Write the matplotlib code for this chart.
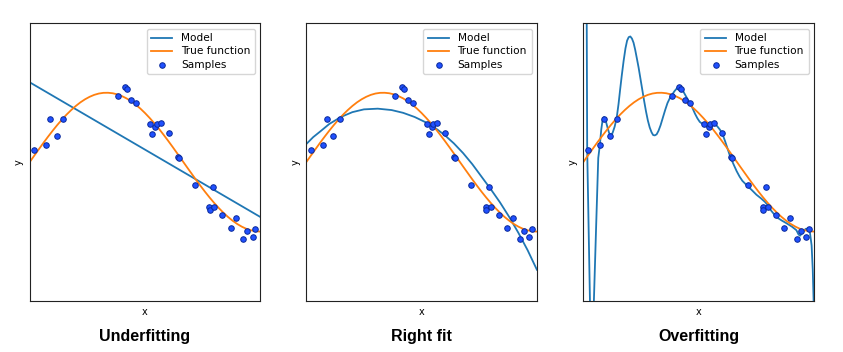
import matplotlib
matplotlib.use("Agg")
import matplotlib.pyplot as plt

# samples (same in all three panels)
sample_x = [0.020, 0.072, 0.088, 0.118, 0.146, 0.383, 0.413, 0.423, 0.439, 0.461,
            0.523, 0.530, 0.543, 0.551, 0.568, 0.603, 0.642, 0.647, 0.716, 0.794,
            0.778, 0.781, 0.799, 0.834, 0.872, 0.895, 0.925, 0.944, 0.967, 0.978]
sample_y = [0.175, 0.251, 0.622, 0.372, 0.622, 0.949, 1.087, 1.054, 0.895, 0.856,
            0.545, 0.405, 0.506, 0.550, 0.564, 0.416, 0.079, 0.060, -0.333, -0.362,
            -0.642, -0.689, -0.650, -0.761, -0.944, -0.800, -1.103, -0.996, -1.078, -0.963]

# true function
true_x = [0.00, 0.02, 0.04, 0.06, 0.08, 0.10, 0.12, 0.14, 0.16, 0.18, 0.20, 0.22, 0.24,
          0.26, 0.28, 0.30, 0.32, 0.34, 0.36, 0.38, 0.40, 0.42, 0.44, 0.46, 0.48, 0.50,
          0.52, 0.54, 0.56, 0.58, 0.60, 0.62, 0.64, 0.66, 0.68, 0.70, 0.72, 0.74, 0.76,
          0.78, 0.80, 0.82, 0.84, 0.86, 0.88, 0.90, 0.92, 0.94, 0.96, 0.98, 1.00]
true_y = [0.000, 0.094, 0.187, 0.279, 0.368, 0.454, 0.536, 0.613, 0.685, 0.750, 0.809,
          0.861, 0.905, 0.941, 0.969, 0.988, 0.998, 0.999, 0.992, 0.976, 0.951, 0.918,
          0.876, 0.827, 0.771, 0.707, 0.637, 0.562, 0.482, 0.397, 0.309, 0.218, 0.125,
          0.031, -0.063, -0.156, -0.249, -0.339, -0.426, -0.509, -0.588, -0.661, -0.729,
          -0.790, -0.844, -0.891, -0.930, -0.961, -0.982, -0.996, -1.000]

# model curves
under_x = [0.0, 1.0]
under_y = [1.15, -0.79]

right_x = [0.00, 0.03, 0.06, 0.10, 0.15, 0.20, 0.25, 0.31, 0.37, 0.42, 0.47, 0.52,
           0.56, 0.60, 0.64, 0.68, 0.72, 0.76, 0.80, 0.84, 0.88, 0.92, 0.96, 1.00]
right_y = [0.26, 0.36, 0.44, 0.55, 0.65, 0.72, 0.76, 0.77, 0.75, 0.71, 0.65, 0.57,
           0.49, 0.39, 0.27, 0.13, -0.03, -0.21, -0.39, -0.58, -0.79, -1.02, -1.27, -1.55]

over_x = [0.000, 0.015, 0.017, 0.029, 0.037, 0.046, 0.056, 0.065, 0.072, 0.078,
          0.084, 0.090, 0.097, 0.105, 0.112, 0.119, 0.127, 0.136, 0.145, 0.153,
          0.160, 0.167, 0.175, 0.183, 0.190, 0.197, 0.204, 0.211, 0.218, 0.225,
          0.232, 0.240, 0.248, 0.256, 0.264, 0.272, 0.280, 0.288, 0.296, 0.303,
          0.310, 0.318, 0.326, 0.335, 0.345, 0.355, 0.365, 0.375, 0.385, 0.395,
          0.405, 0.414, 0.420, 0.426, 0.435, 0.445, 0.455, 0.462, 0.472, 0.484,
          0.495, 0.505, 0.519, 0.530, 0.544, 0.555, 0.566, 0.580, 0.592, 0.602,
          0.615, 0.625, 0.635, 0.650, 0.665, 0.678, 0.690, 0.702, 0.714, 0.730,
          0.751, 0.770, 0.787, 0.800, 0.815, 0.837, 0.860, 0.881, 0.905, 0.924,
          0.933, 0.940, 0.947, 0.955, 0.965, 0.976, 0.983, 0.990, 0.995, 0.9987, 1.000]
over_y = [4.00, 2.00, 0.18, -2.00, -3.00, -2.00, -0.90, 0.06, 0.25, 0.47,
          0.61, 0.65, 0.60, 0.50, 0.42, 0.39, 0.42, 0.51, 0.64, 0.84,
          1.05, 1.25, 1.46, 1.64, 1.75, 1.80, 1.81, 1.78, 1.72, 1.62,
          1.50, 1.36, 1.20, 1.04, 0.88, 0.73, 0.60, 0.50, 0.43, 0.39,
          0.385, 0.40, 0.45, 0.53, 0.64, 0.75, 0.85, 0.92, 0.97, 1.02,
          1.06, 1.09, 1.09, 1.06, 1.01, 0.95, 0.89, 0.86, 0.79, 0.70,
          0.63, 0.58, 0.545, 0.52, 0.50, 0.52, 0.55, 0.52, 0.47, 0.42,
          0.30, 0.20, 0.10, -0.02, -0.13, -0.21, -0.27, -0.31, -0.35, -0.40,
          -0.47, -0.52, -0.57, -0.62, -0.70, -0.79, -0.84, -0.88, -0.93, -0.98,
          -1.04, -1.06, -1.03, -0.99, -0.96, -0.96, -1.02, -1.20, -1.55, -2.00, -2.50]

titles = ["Underfitting", "Right fit", "Overfitting"]
models = [(under_x, under_y), (right_x, right_y), (over_x, over_y)]
lefts = [0.0352, 0.3633, 0.6919]

fig = plt.figure(figsize=(8.43, 3.52), dpi=100)

for left, title, (mx, my) in zip(lefts, titles, models):
    ax = fig.add_axes([left, 0.1449, 0.2736, 0.789])
    ax.plot(mx, my, color="#1f77b4", lw=1.3, label="Model")
    ax.plot(true_x, true_y, color="#ff7f0e", lw=1.3, label="True function")
    ax.scatter(sample_x, sample_y, s=16, facecolor="#2050ff", edgecolor="#0a2a9a",
               linewidth=0.7, label="Samples", zorder=3)
    ax.set_xlim(0, 1)
    ax.set_ylim(-2, 2)
    ax.set_xticks([])
    ax.set_yticks([])
    ax.set_xlabel("x", fontsize=7)
    ax.set_ylabel("y", fontsize=7)
    for sp in ax.spines.values():
        sp.set_linewidth(0.8)
        sp.set_color("#222222")
    ax.legend(loc="upper right", fontsize=7.6, labelspacing=0.3, handlelength=2.0,
              borderpad=0.45, framealpha=0.8)
    fig.text(left + 0.2736 / 2, 0.045, title, ha="center", va="center",
             fontsize=11.5, fontweight="bold", family="Liberation Sans")

fig.savefig("out.png", dpi=100)
